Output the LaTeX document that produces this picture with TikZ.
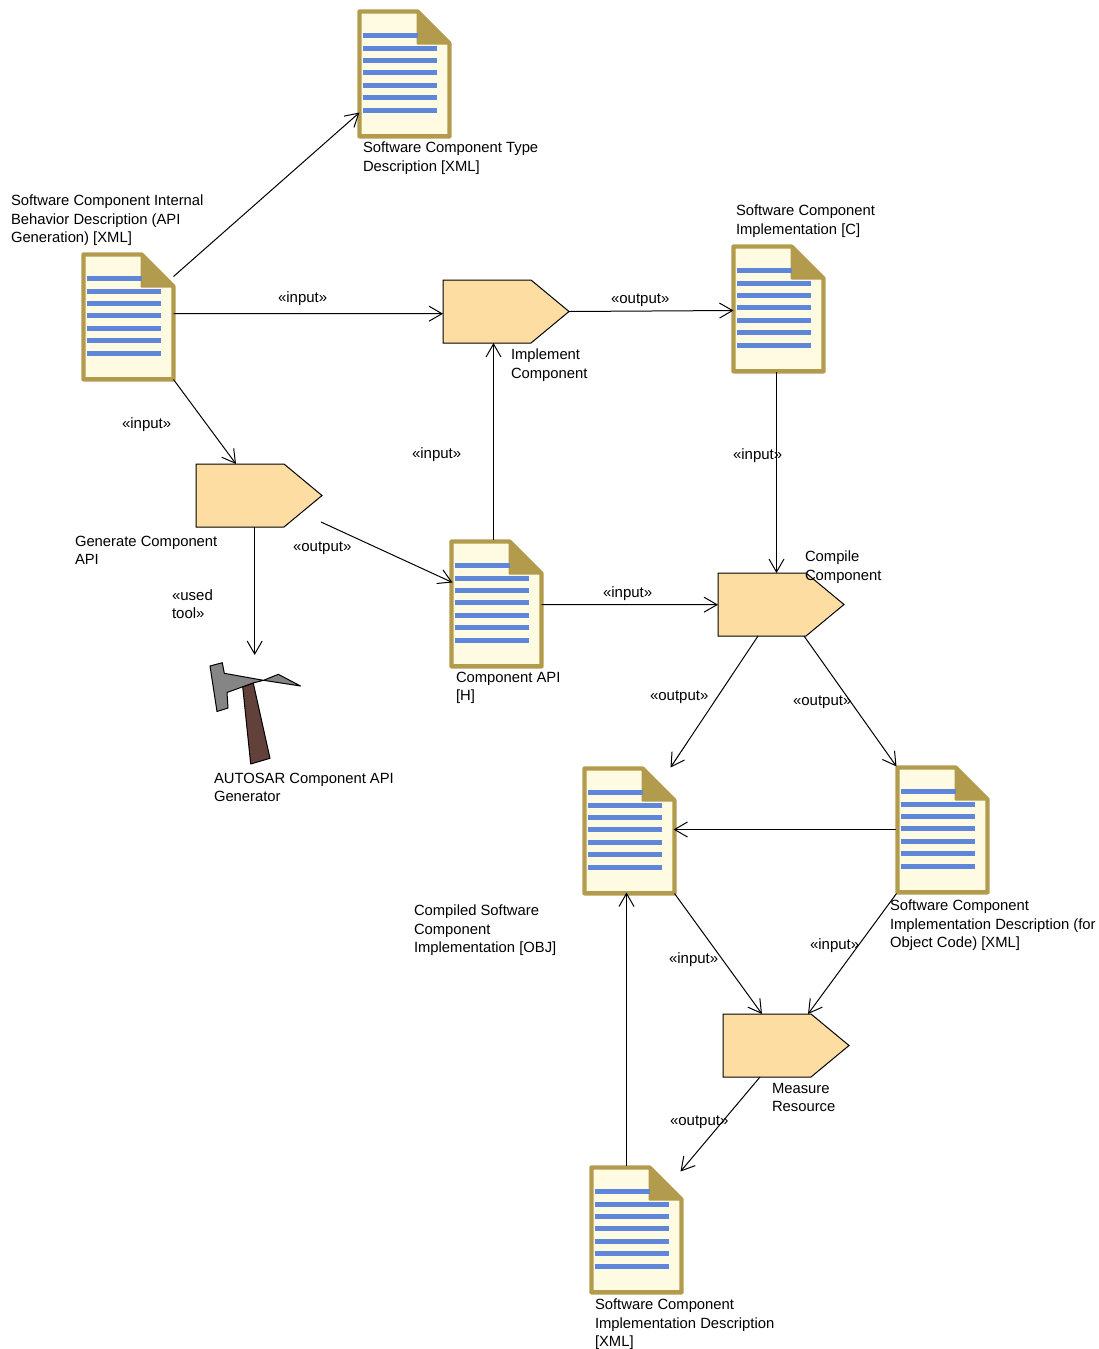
\documentclass[tikz,border=0pt]{standalone}
\usepackage{fontspec}
\setmainfont{Liberation Sans}
\usetikzlibrary{arrows.meta,calc}
\definecolor{docedge}{HTML}{B39B4E}
\definecolor{docfill}{HTML}{FFFBE3}
\definecolor{docline}{HTML}{5F86D9}
\definecolor{procfill}{HTML}{FDDDA2}
\definecolor{hammergrey}{HTML}{858585}
\definecolor{hammerbrown}{HTML}{62413A}
\tikzset{
  box/.style={inner sep=0pt,outer sep=0pt,minimum width=#1,anchor=north west},
  docbox/.style={box=94pt,minimum height=128pt},
  procbox/.style={box=126pt,minimum height=63pt},
  lbl/.style={inner sep=0pt,outer sep=0pt,anchor=north west,align=left,yshift=-3pt,font=\fontsize{14.8}{18.4}\selectfont},
  ster/.style={inner sep=0pt,outer sep=0pt,anchor=west,yshift=-1.2pt,font=\fontsize{15}{18}\selectfont},
  conn/.style={line width=1pt,-{Straight Barb[length=13pt,width=15pt,line width=1pt]}},
  docout/.style={draw=docedge,fill=docfill,line width=4.4pt,line join=round},
  docfold/.style={draw=docedge,fill=docedge,line width=2pt,line join=round},
  docrow/.style={docline,line width=5pt},
  proc/.style={draw=black,fill=procfill,line width=1pt,line join=miter},
}
\newcommand{\docshape}[3]{%
  \node[docbox] (#1) at (#2-0.5,#3-0.5) {};
  \begin{scope}[shift={(#2-0.5,#3-0.5)}]
    \path[docout] (2,2) -- (60,2) -- (92,34) -- (92,126.8) -- (2,126.8) -- cycle;
    \path[docfold] (60,2) -- (92,34) -- (60,34) -- cycle;
    \foreach \yy in {38.5,50.9,63.3,75.7,88.1,100.5} {\draw[docrow] (5,\yy) -- (79,\yy);}
    \draw[docrow] (5,26.2) -- (60,26.2);
  \end{scope}}
\newcommand{\procshape}[3]{%
  \node[procbox] (#1) at (#2,#3) {};
  \path[proc] (#1.north west) -- ++(88,0) -- (#1.east) -- ($(#1.south west)+(88,0)$) -- (#1.south west) -- cycle;}
\newcommand{\rel}[3]{($(#1.north west)+(#2,#3)$)}
\begin{document}
\begin{tikzpicture}[x=1pt,y=-1pt]
\useasboundingbox (0,0) rectangle (1099,1349);
\docshape{typedesc}{358}{10}
\docshape{internal}{82}{253}
\docshape{implc}{732}{245}
\docshape{apih}{450}{540}
\docshape{compiled}{583}{767}
\docshape{impldescobj}{896}{766}
\docshape{impldesc}{590}{1166}
\procshape{implement}{443}{280}
\procshape{generate}{196}{464}
\procshape{compile}{718}{573}
\procshape{measure}{723}{1014}
% tool
\node[box=91pt,minimum height=103pt] (tool) at (210,662) {};
\filldraw[fill=hammerbrown,draw=black,line width=1pt,line join=round] (242.7,686.7) -- (253.3,683.3) -- (270,758.3) -- (250.7,764) -- cycle;
\filldraw[fill=hammergrey,draw=black,line width=1pt,line join=round] (210,666) -- (222.3,662.7) -- (224.3,673.3) -- (263.5,680.3) -- (278.3,674.3) -- (300.5,686) -- (263.5,680.3) -- (253,683) -- (227,692.5) -- (228,708) -- (217,711.5) -- cycle;
% connectors
\draw[conn] \rel{internal}{92}{24} -- \rel{typedesc}{2}{103};
\draw[conn] \rel{internal}{92}{61} -- \rel{implement}{0}{33.7};
\draw[conn] \rel{internal}{92}{127} -- \rel{generate}{40}{0};
\draw[conn] \rel{generate}{58.7}{63} -- \rel{tool}{44.7}{-7};
\draw[conn] \rel{generate}{125}{58} -- \rel{apih}{3}{43};
\draw[conn] \rel{apih}{44}{0} -- \rel{implement}{50.5}{63};
\draw[conn] (implement.east) -- \rel{implc}{2}{66};
\draw[conn] \rel{implc}{45}{127} -- \rel{compile}{58.5}{0};
\draw[conn] \rel{apih}{92}{65} -- \rel{compile}{0}{31.7};
\draw[conn] \rel{compile}{40}{63} -- \rel{compiled}{88}{1};
\draw[conn] \rel{compile}{86}{63} -- \rel{impldescobj}{1}{1};
\draw[conn] \rel{impldescobj}{0}{64} -- \rel{compiled}{91}{63};
\draw[conn] \rel{compiled}{92}{127} -- \rel{measure}{39}{0};
\draw[conn] \rel{impldescobj}{1}{128} -- \rel{measure}{85}{0};
\draw[conn] \rel{measure}{37}{63} -- \rel{impldesc}{91}{6};
\draw[conn] \rel{impldesc}{37}{0} -- \rel{compiled}{44}{126};
% labels
\node[lbl] (t1) at (363,139) {Software Component Type\\Description [XML]};
\node[lbl] (t2) at (11,192) {Software Component Internal\\Behavior Description (API\\Generation) [XML]};
\node[lbl] (t3) at (736,202) {Software Component\\Implementation [C]};
\node[lbl] (t4) at (511,346) {Implement\\Component};
\node[lbl] (t5) at (75,533) {Generate Component\\API};
\node[lbl] (t6) at (805,548) {Compile\\Component};
\node[lbl] (t7) at (456,669) {Component API\\{[H]}};
\node[lbl] (t8) at (214,770) {AUTOSAR Component API\\Generator};
\node[lbl] (t9) at (414,902) {Compiled Software\\Component\\Implementation [OBJ]};
\node[lbl] (t10) at (890,897) {Software Component\\Implementation Description (for\\Object Code) [XML]};
\node[lbl] (t11) at (772,1080) {Measure\\Resource};
\node[lbl] (t12) at (595,1296) {Software Component\\Implementation Description\\{[XML]}};
\node[ster] (s1) at (278,297) {«input»};
\node[ster] (s2) at (611,299) {«output»};
\node[ster] (s3) at (122,423) {«input»};
\node[ster] (s4) at (412,453) {«input»};
\node[ster] (s5) at (733,454) {«input»};
\node[ster] (s6) at (293,547) {«output»};
\node[ster] (s7) at (603,592) {«input»};
\node[ster,anchor=north west,align=left,yshift=-2.5pt] (s8) at (172,586) {«used\\tool»};
\node[ster] (s9) at (650,696) {«output»};
\node[ster] (s10) at (793,701) {«output»};
\node[ster] (s11) at (810,944) {«input»};
\node[ster] (s12) at (669,958) {«input»};
\node[ster] (s13) at (670,1121) {«output»};
\end{tikzpicture}
\end{document}
